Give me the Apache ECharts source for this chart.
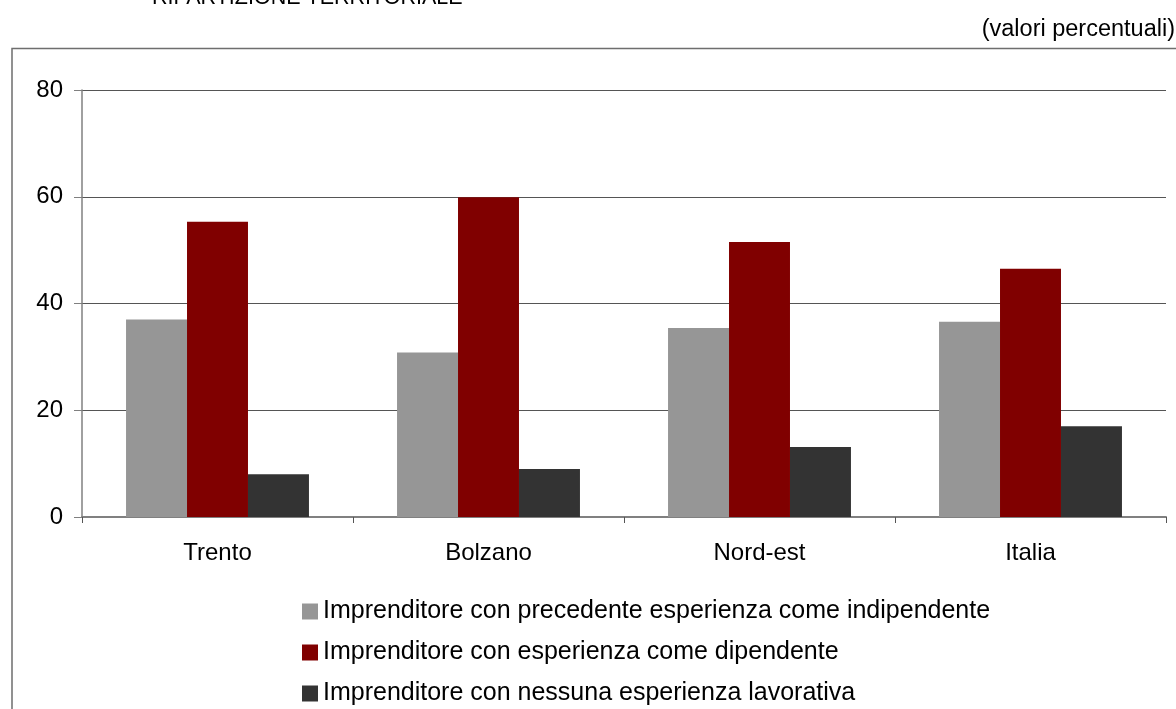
<!DOCTYPE html>
<html>
<head>
<meta charset="utf-8">
<script src="https://cdn.jsdelivr.net/npm/echarts@6/dist/echarts.min.js"></script>
<style>
  html, body { margin: 0; padding: 0; background: #fff; }
  #chart { width: 1176px; height: 709px; }
</style>
</head>
<body>
<div id="chart"></div>
<script>
// dati
const categories = ['Trento', 'Bolzano', 'Nord-est', 'Italia']
const seriesNames = [
  'Imprenditore con precedente esperienza come indipendente',
  'Imprenditore con esperienza come dipendente',
  'Imprenditore con nessuna esperienza lavorativa',
]
const indipendente = [37.0, 30.8, 35.4, 36.6]
const dipendente = [55.3, 59.9, 51.5, 46.5]
const nessuna = [8.0, 9.0, 13.1, 17.0]
const yTicks = [0, 20, 40, 60, 80]

const colors = ['#969696', '#800000', '#333333']
const font = 'Liberation Sans, Arial, sans-serif'

const chart = echarts.init(document.getElementById('chart'))

// una legenda per riga, così non va a capo
const legends = seriesNames.map((name, i) => ({
  orient: 'vertical',
  left: 297,
  top: 594 + i * 41,
  itemWidth: 16,
  itemHeight: 16,
  icon: 'rect',
  data: [name],
  textStyle: { fontSize: 25, color: '#000', fontFamily: font },
}))

const options = {
  animation: false,
  textStyle: { fontFamily: font },
  graphic: [
    // cornice
    {
      type: 'rect',
      shape: { x: 12, y: 48.5, width: 1200, height: 700 },
      style: { fill: 'none', stroke: '#6e6e6e', lineWidth: 1.5 },
    },
    {
      type: 'text',
      x: 152,
      y: 9,
      style: {
        text: 'RIPARTIZIONE TERRITORIALE',
        font: '21.5px ' + font,
        fill: '#000',
        textVerticalAlign: 'bottom',
      },
    },
    {
      type: 'text',
      x: 1175,
      y: 30,
      style: {
        text: '(valori percentuali)',
        font: '23.5px ' + font,
        fill: '#000',
        textAlign: 'right',
        textVerticalAlign: 'middle',
      },
    },
  ],
  legend: legends,
  grid: {
    left: 82,
    right: 10,
    top: 90,
    bottom: 192,
    containLabel: false,
  },
  xAxis: {
    type: 'category',
    data: categories,
    boundaryGap: true,
    axisLine: { lineStyle: { color: '#808080', width: 2 } },
    axisTick: { show: true, length: 6, alignWithLabel: false, lineStyle: { color: '#555' } },
    axisLabel: { color: '#000', fontSize: 24, margin: 24, fontFamily: font },
  },
  yAxis: {
    type: 'value',
    min: yTicks[0],
    max: yTicks[yTicks.length - 1],
    interval: 20,
    axisLine: { show: true, lineStyle: { color: '#808080', width: 1.5 } },
    axisTick: { show: true, length: 8, lineStyle: { color: '#808080' } },
    axisLabel: { color: '#000', fontSize: 24, margin: 19, fontFamily: font },
    splitLine: { lineStyle: { color: '#555', width: 1.2 } },
  },
  series: [indipendente, dipendente, nessuna].map((values, i) => ({
    name: seriesNames[i],
    type: 'bar',
    data: values,
    barGap: '0%',
    barCategoryGap: '32.5%',
    itemStyle: { color: colors[i] },
  })),
}

chart.setOption(options)
</script>
</body>
</html>
